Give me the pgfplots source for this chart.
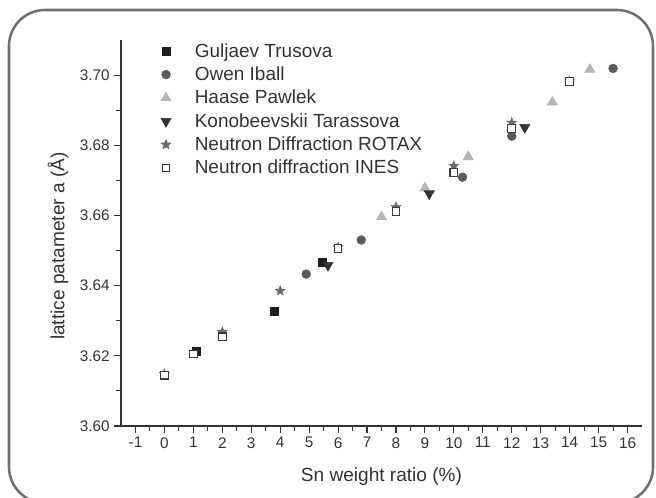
\documentclass[border=0pt]{standalone}
\usepackage{fontspec}
\setmainfont{Liberation Sans}
\usepackage{pgfplots}
\pgfplotsset{compat=1.18}
\definecolor{framegray}{HTML}{707070}
\definecolor{axgray}{HTML}{333333}
\definecolor{cGul}{HTML}{1E1E1E}
\definecolor{cOwen}{HTML}{5A5A5A}
\definecolor{cHaase}{HTML}{B5B5B5}
\definecolor{cKono}{HTML}{333333}
\definecolor{cRotax}{HTML}{6A6A6A}
\definecolor{cInes}{HTML}{3A3A3A}
\pgfdeclareplotmark{fstar}{%
  \pgfpathmoveto{\pgfpointpolar{90}{\pgfplotmarksize}}%
  \pgfpathlineto{\pgfpointpolar{126}{0.42\pgfplotmarksize}}%
  \pgfpathlineto{\pgfpointpolar{162}{\pgfplotmarksize}}%
  \pgfpathlineto{\pgfpointpolar{198}{0.42\pgfplotmarksize}}%
  \pgfpathlineto{\pgfpointpolar{234}{\pgfplotmarksize}}%
  \pgfpathlineto{\pgfpointpolar{270}{0.42\pgfplotmarksize}}%
  \pgfpathlineto{\pgfpointpolar{306}{\pgfplotmarksize}}%
  \pgfpathlineto{\pgfpointpolar{342}{0.42\pgfplotmarksize}}%
  \pgfpathlineto{\pgfpointpolar{18}{\pgfplotmarksize}}%
  \pgfpathlineto{\pgfpointpolar{54}{0.42\pgfplotmarksize}}%
  \pgfpathclose
  \pgfusepathqfillstroke
}
\begin{document}
\begin{tikzpicture}
\path[use as bounding box] (0,0) rectangle (492pt,373.5pt);
\draw[line width=1.9pt, color=framegray, rounded corners=27pt] (6.75pt,366pt) rectangle (489.75pt,-3.75pt);
\begin{axis}[
  at={(90.75pt,54pt)}, anchor=south west,
  scale only axis, width=390.75pt, height=289.5pt,
  xmin=-1.5, xmax=16.5, ymin=3.60, ymax=3.71,
  axis lines*=left,
  axis line style={axgray, line width=0.8pt},
  xtick={-1,0,...,16},
  ytick={3.60,3.62,3.64,3.66,3.68,3.70},
  minor x tick num=1, minor y tick num=1,
  tick align=outside,
  major tick length=5pt, minor tick length=3.5pt,
  tick style={axgray, line width=0.8pt},
  every tick label/.append style={font=\fontsize{11.5}{13}\selectfont, text=axgray},
  /pgf/number format/assume math mode=true,
  yticklabel style={/pgf/number format/.cd, fixed, fixed zerofill, precision=2},
  xlabel={Sn weight ratio (\%)},
  ylabel={lattice patameter a (Å)},
  xlabel style={at={(axis description cs:0.5,-0.132)}, anchor=center, font=\fontsize{14.3}{17}\selectfont, text=axgray},
  ylabel style={at={(axis description cs:-0.121,0.466)}, anchor=center, font=\fontsize{14.3}{17}\selectfont, text=axgray},
  legend style={at={(axis description cs:0.0685,0.999)}, anchor=north west, draw=none, fill=none,
    font=\fontsize{14.25}{17}\selectfont, text=axgray, row sep=5.7pt, column sep=17.75pt,
    nodes={inner sep=0pt}},
  legend cell align=left,
]
\addplot[only marks, mark=square*, mark size=3pt, color=cGul, mark options={fill=cGul, draw=cGul}]
  coordinates {(1.1,3.6213) (3.8,3.6326) (5.45,3.6466)};
\addlegendentry{Guljaev Trusova}
\addplot[only marks, mark=*, mark size=3.3pt, color=cOwen, mark options={fill=cOwen, draw=cOwen}]
  coordinates {(4.9,3.6433) (6.8,3.6530) (10.3,3.6709) (12.0,3.6826) (15.5,3.7019)};
\addlegendentry{Owen Iball}
\addplot[only marks, mark=triangle*, mark size=4.4pt, color=cHaase, mark options={fill=cHaase, draw=cHaase}]
  coordinates {(7.5,3.6596) (9.0,3.6678) (10.5,3.6767) (13.4,3.6923) (14.7,3.7016)};
\addlegendentry{Haase Pawlek}
\addplot[only marks, mark=triangle*, mark size=4.4pt, color=cKono, mark options={fill=cKono, draw=cKono, rotate=180}]
  coordinates {(5.65,3.6458) (9.15,3.6662) (12.45,3.6851)};
\addlegendentry{Konobeevskii Tarassova}
\addplot[only marks, mark=fstar, mark size=4pt, color=cRotax, mark options={fill=cRotax, draw=cRotax, line width=0.3pt}]
  coordinates {(0,3.6148) (2,3.6268) (4,3.6385) (6,3.6509) (8,3.6624) (10,3.6741) (12,3.6864) (14,3.6982)};
\addlegendentry{Neutron Diffraction ROTAX}
\addplot[only marks, mark=square*, mark size=2.9pt, color=cInes, mark options={fill=white, draw=cInes, line width=0.8pt}]
  coordinates {(0,3.6145) (1,3.6205) (2,3.6254) (6,3.6505) (8,3.6612) (10,3.6722) (12,3.6848) (14,3.6981)};
\addlegendentry{Neutron diffraction INES}
\end{axis}
\end{tikzpicture}
\end{document}
